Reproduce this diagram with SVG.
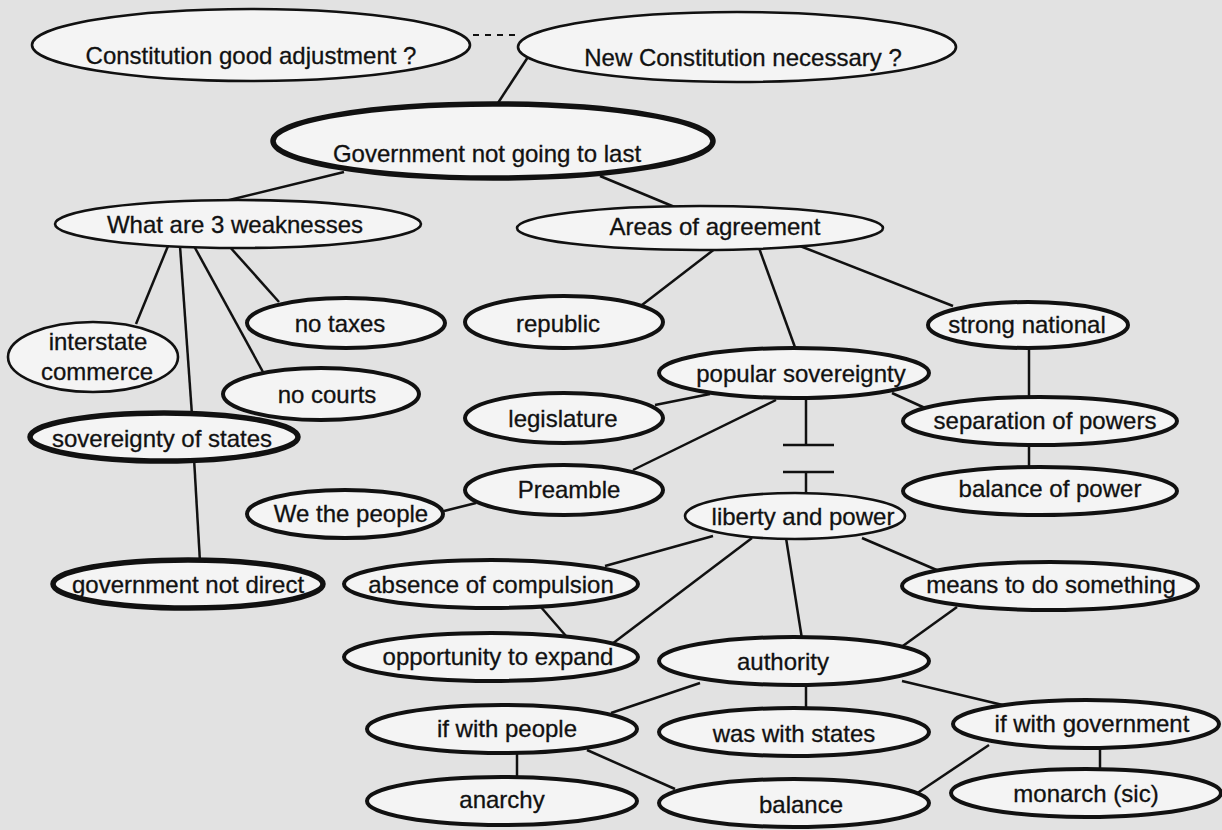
<svg xmlns="http://www.w3.org/2000/svg" width="1222" height="830" viewBox="0 0 1222 830">
<style>
.bg{fill:#e2e2e2}
ellipse{fill:#f4f4f4;stroke:#111}
.t1{stroke-width:2.6}
.t2{stroke-width:4}
.t3{stroke-width:5.5}
text{font-family:"Liberation Sans",Arial,sans-serif;font-size:24px;fill:#111;stroke:#111;stroke-width:0.3;text-anchor:middle}
#connectors line{stroke:#111;stroke-width:2.5}
#connectors .dash{stroke-dasharray:6 6;stroke-width:2}
</style>
<rect class="bg" x="0" y="0" width="1222" height="830"/>
<g id="connectors">
<line class="dash" x1="473" y1="35" x2="519" y2="35"/>
<line x1="528" y1="57" x2="496" y2="106"/>
<line x1="344" y1="172" x2="221" y2="202"/>
<line x1="600" y1="176" x2="677" y2="208"/>
<line x1="168" y1="246" x2="136" y2="324"/>
<line x1="180" y1="246" x2="192" y2="415"/>
<line x1="194" y1="246" x2="263" y2="372"/>
<line x1="229" y1="246" x2="279" y2="302"/>
<line x1="194" y1="458" x2="200" y2="562"/>
<line x1="444" y1="511" x2="476" y2="503"/>
<line x1="716" y1="248" x2="642" y2="305"/>
<line x1="759" y1="248" x2="796" y2="350"/>
<line x1="800" y1="246" x2="953" y2="306"/>
<line x1="1029" y1="346" x2="1029" y2="399"/>
<line x1="1029" y1="443" x2="1029" y2="469"/>
<line x1="892" y1="393" x2="925" y2="408"/>
<line x1="655" y1="405" x2="710" y2="394"/>
<line x1="633" y1="470" x2="776" y2="400"/>
<line x1="806" y1="397" x2="806" y2="445"/>
<line x1="783" y1="445" x2="834" y2="445"/>
<line x1="783" y1="472" x2="834" y2="472"/>
<line x1="806" y1="472" x2="806" y2="495"/>
<line x1="713" y1="536" x2="605" y2="566"/>
<line x1="752" y1="538" x2="612" y2="644"/>
<line x1="786" y1="538" x2="802" y2="639"/>
<line x1="862" y1="538" x2="939" y2="571"/>
<line x1="540" y1="606" x2="566" y2="636"/>
<line x1="957" y1="607" x2="900" y2="648"/>
<line x1="806" y1="684" x2="806" y2="710"/>
<line x1="902" y1="681" x2="1007" y2="706"/>
<line x1="700" y1="683" x2="611" y2="713"/>
<line x1="517" y1="752" x2="517" y2="779"/>
<line x1="587" y1="750" x2="675" y2="789"/>
<line x1="989" y1="745" x2="910" y2="798"/>
<line x1="1100" y1="747" x2="1100" y2="772"/>
</g>
<g id="n-constitution"><ellipse class="t1" cx="251" cy="45" rx="219" ry="36"/><text x="251" y="64">Constitution good adjustment ?</text></g>
<g id="n-new"><ellipse class="t1" cx="737" cy="47" rx="219" ry="35"/><text x="743" y="66">New Constitution necessary ?</text></g>
<g id="n-government"><ellipse class="t3" cx="493" cy="141" rx="220" ry="37"/><text x="487" y="162">Government not going to last</text></g>
<g id="n-weaknesses"><ellipse class="t1" cx="238" cy="224" rx="183" ry="24"/><text x="235" y="233">What are 3 weaknesses</text></g>
<g id="n-areas"><ellipse class="t1" cx="700" cy="228" rx="183" ry="22"/><text x="715" y="235">Areas of agreement</text></g>
<g id="n-interstate"><ellipse class="t1" cx="93" cy="357" rx="85" ry="35"/><text x="98" y="350">interstate</text><text x="97" y="380">commerce</text></g>
<g id="n-notaxes"><ellipse class="t2" cx="346" cy="323" rx="99" ry="25"/><text x="340" y="332">no taxes</text></g>
<g id="n-republic"><ellipse class="t2" cx="564" cy="322" rx="99" ry="26"/><text x="558" y="332">republic</text></g>
<g id="n-nocourts"><ellipse class="t2" cx="321" cy="394" rx="98" ry="26"/><text x="327" y="403">no courts</text></g>
<g id="n-legislature"><ellipse class="t2" cx="564" cy="418" rx="99" ry="25"/><text x="563" y="427">legislature</text></g>
<g id="n-sovstates"><ellipse class="t3" cx="164" cy="437" rx="134" ry="24"/><text x="162" y="447">sovereignty of states</text></g>
<g id="n-preamble"><ellipse class="t2" cx="564" cy="490" rx="99" ry="25"/><text x="569" y="498">Preamble</text></g>
<g id="n-wethepeople"><ellipse class="t2" cx="345" cy="514" rx="98" ry="24"/><text x="351" y="522">We the people</text></g>
<g id="n-govnotdirect"><ellipse class="t3" cx="188" cy="584" rx="135" ry="24"/><text x="188" y="593">government not direct</text></g>
<g id="n-absence"><ellipse class="t2" cx="491" cy="584" rx="147" ry="24"/><text x="491" y="593">absence of compulsion</text></g>
<g id="n-opportunity"><ellipse class="t2" cx="491" cy="657" rx="147" ry="24"/><text x="498" y="665">opportunity to expand</text></g>
<g id="n-ifpeople"><ellipse class="t2" cx="502" cy="729" rx="135" ry="24"/><text x="507" y="737">if with people</text></g>
<g id="n-anarchy"><ellipse class="t2" cx="502" cy="801" rx="135" ry="24"/><text x="502" y="808">anarchy</text></g>
<g id="n-strong"><ellipse class="t2" cx="1028" cy="325" rx="100" ry="23"/><text x="1027" y="333">strong national</text></g>
<g id="n-popular"><ellipse class="t2" cx="794" cy="373" rx="135" ry="25"/><text x="801" y="382">popular sovereignty</text></g>
<g id="n-separation"><ellipse class="t2" cx="1040" cy="421" rx="137" ry="24"/><text x="1045" y="429">separation of powers</text></g>
<g id="n-balancepower"><ellipse class="t2" cx="1040" cy="491" rx="137" ry="24"/><text x="1050" y="497">balance of power</text></g>
<g id="n-liberty"><ellipse class="t1" cx="795" cy="516" rx="110" ry="23"/><text x="803" y="525">liberty and power</text></g>
<g id="n-means"><ellipse class="t2" cx="1050" cy="586" rx="148" ry="24"/><text x="1051" y="593">means to do something</text></g>
<g id="n-authority"><ellipse class="t2" cx="794" cy="661" rx="135" ry="24"/><text x="783" y="670">authority</text></g>
<g id="n-wasstates"><ellipse class="t2" cx="794" cy="732" rx="135" ry="24"/><text x="794" y="742">was with states</text></g>
<g id="n-ifgov"><ellipse class="t2" cx="1086" cy="724" rx="133" ry="24"/><text x="1092" y="732">if with government</text></g>
<g id="n-balance"><ellipse class="t2" cx="794" cy="803" rx="135" ry="24"/><text x="801" y="813">balance</text></g>
<g id="n-monarch"><ellipse class="t2" cx="1086" cy="793" rx="135" ry="24"/><text x="1086" y="802">monarch (sic)</text></g>
</svg>
